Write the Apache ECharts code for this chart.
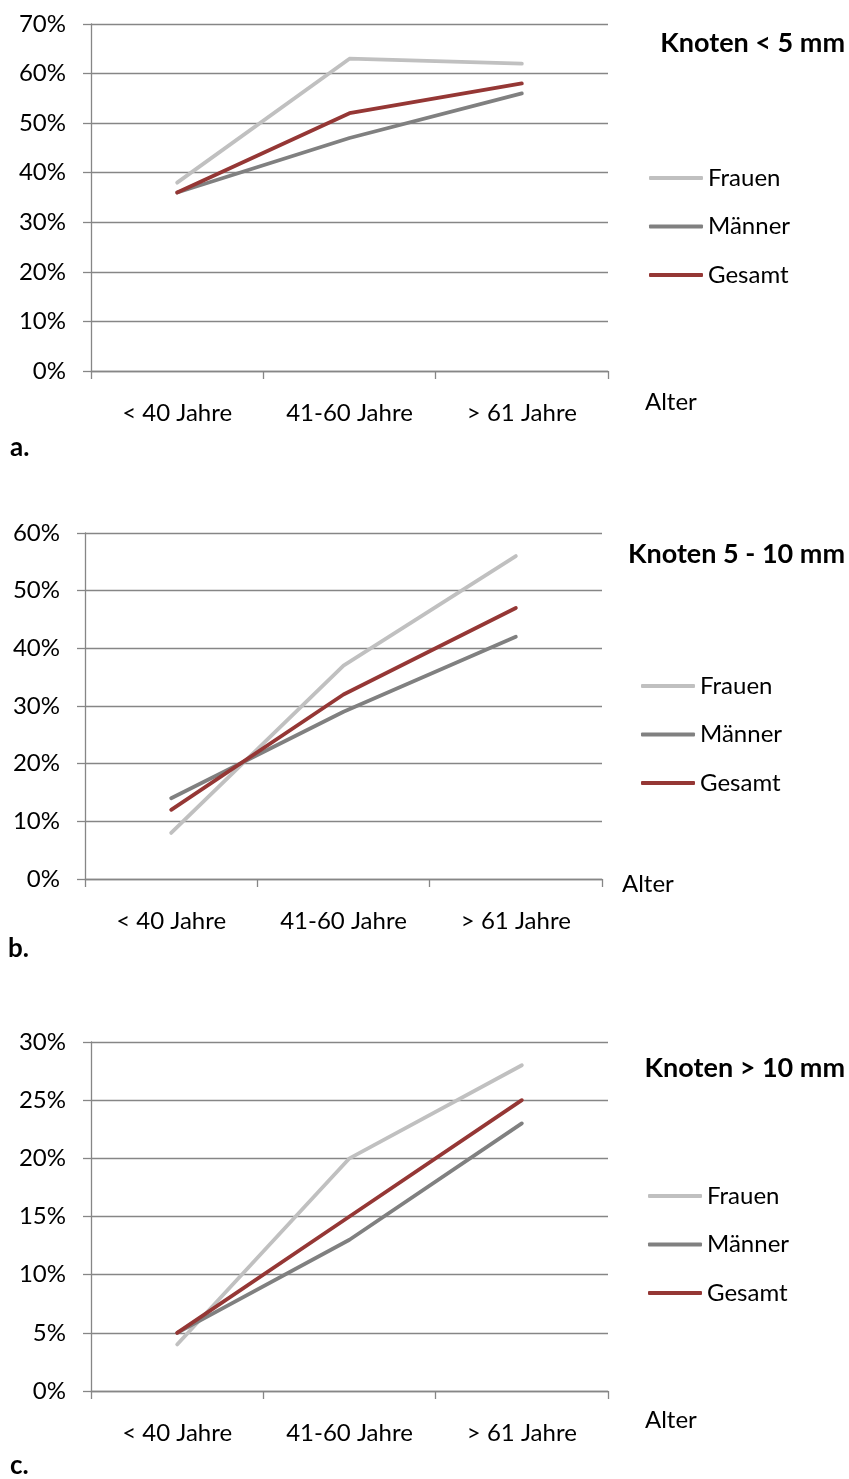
<!DOCTYPE html>
<html>
<head>
<meta charset="utf-8">
<script src="https://cdn.jsdelivr.net/npm/echarts@6/dist/echarts.min.js"></script>
<style>
  html, body { margin: 0; padding: 0; background: #fff; }
  #chart { width: 849px; height: 1479px; }
</style>
</head>
<body>
<div id="chart"></div>
<script>
// Age groups on the x axis
const categories = ['< 40 Jahre', '41-60 Jahre', '> 61 Jahre'];
const seriesNames = ['Frauen', 'Männer', 'Gesamt'];

// a. Knoten < 5 mm (percent)
const frauenA = [38, 63, 62];
const maennerA = [36, 47, 56];
const gesamtA = [36, 52, 58];

// b. Knoten 5 - 10 mm (percent)
const frauenB = [8, 37, 56];
const maennerB = [14, 29, 42];
const gesamtB = [12, 32, 47];

// c. Knoten > 10 mm (percent)
const frauenC = [4, 20, 28];
const maennerC = [5, 13, 23];
const gesamtC = [5, 15, 25];

// y-axis scales: [max, step]
const yScaleA = [70, 10];
const yScaleB = [60, 10];
const yScaleC = [30, 5];

const panelTitles = ['Knoten < 5 mm', 'Knoten 5 - 10 mm', 'Knoten > 10 mm'];
const panelLetters = ['a.', 'b.', 'c.'];
const axisTitle = 'Alter';

const FONT = 'Lato, "Open Sans", sans-serif';
const GRID_GRAY = '#868686';
const COLORS = { 'Frauen': '#c0c0c0', 'Männer': '#808080', 'Gesamt': '#953735' };

const panels = [
  { grid: { left: 91, top: 24, width: 517, height: 347 }, scale: yScaleA, data: [frauenA, maennerA, gesamtA],
    title: { x: 845, y: 43 }, legend: { left: 649, top: 154 }, alter: { x: 645, y: 402 }, letter: { x: 10, y: 448 } },
  { grid: { left: 85, top: 533, width: 517, height: 346 }, scale: yScaleB, data: [frauenB, maennerB, gesamtB],
    title: { x: 845, y: 554 }, legend: { left: 641, top: 662 }, alter: { x: 622, y: 884 }, letter: { x: 8, y: 949 } },
  { grid: { left: 91, top: 1042, width: 517, height: 349 }, scale: yScaleC, data: [frauenC, maennerC, gesamtC],
    title: { x: 845, y: 1068 }, legend: { left: 648, top: 1172 }, alter: { x: 645, y: 1420 }, letter: { x: 10, y: 1466 } }
];

const option = {
  backgroundColor: '#ffffff',
  animation: false,
  grid: [],
  xAxis: [],
  yAxis: [],
  legend: [],
  series: [],
  graphic: []
};

panels.forEach((p, i) => {
  option.grid.push(Object.assign({ containLabel: false }, p.grid));

  option.xAxis.push({
    type: 'category',
    gridIndex: i,
    data: categories,
    boundaryGap: true,
    axisLine: { show: true, lineStyle: { color: GRID_GRAY, width: 1.3 } },
    axisTick: { show: true, length: 8, alignWithLabel: false, lineStyle: { color: GRID_GRAY, width: 1.3 } },
    axisLabel: { color: '#000', fontFamily: FONT, fontSize: 24, margin: 30 },
    splitLine: { show: false }
  });

  option.yAxis.push({
    type: 'value',
    gridIndex: i,
    min: 0,
    max: p.scale[0],
    interval: p.scale[1],
    axisLine: { show: true, lineStyle: { color: GRID_GRAY, width: 1.3 } },
    axisTick: { show: true, length: 8, lineStyle: { color: GRID_GRAY, width: 1.3 } },
    axisLabel: { color: '#000', fontFamily: FONT, fontSize: 24, margin: 25, formatter: '{value}%' },
    splitLine: { show: true, lineStyle: { color: GRID_GRAY, width: 1.3 } }
  });

  seriesNames.forEach((name, k) => {
    option.series.push({
      type: 'line',
      name: name,
      xAxisIndex: i,
      yAxisIndex: i,
      data: p.data[k],
      symbol: 'none',
      lineStyle: { color: COLORS[name], width: 3.8, cap: 'round', join: 'round' },
      itemStyle: { color: COLORS[name] },
      z: 2 + k
    });
  });

  option.legend.push({
    orient: 'vertical',
    left: p.legend.left,
    top: p.legend.top,
    padding: 0,
    itemGap: 0.5,
    itemWidth: 54,
    itemHeight: 4,
    icon: 'roundRect',
    selectedMode: false,
    data: seriesNames,
    textStyle: { color: '#000', fontFamily: FONT, fontSize: 24, lineHeight: 48, padding: [0, 0, 0, 0] }
  });

  option.graphic.push(
    {
      type: 'text', x: p.title.x, y: p.title.y,
      style: { text: panelTitles[i], fill: '#000', font: 'bold 27px ' + FONT, textAlign: 'right', textVerticalAlign: 'middle' }
    },
    {
      type: 'text', x: p.alter.x, y: p.alter.y,
      style: { text: axisTitle, fill: '#000', font: '24px ' + FONT, textAlign: 'left', textVerticalAlign: 'middle' }
    },
    {
      type: 'text', x: p.letter.x, y: p.letter.y,
      style: { text: panelLetters[i], fill: '#000', font: 'bold 26px ' + FONT, textAlign: 'left', textVerticalAlign: 'middle' }
    }
  );
});

const chart = echarts.init(document.getElementById('chart'), null, { renderer: 'canvas', width: 849, height: 1479 });
chart.setOption(option);
</script>
</body>
</html>
